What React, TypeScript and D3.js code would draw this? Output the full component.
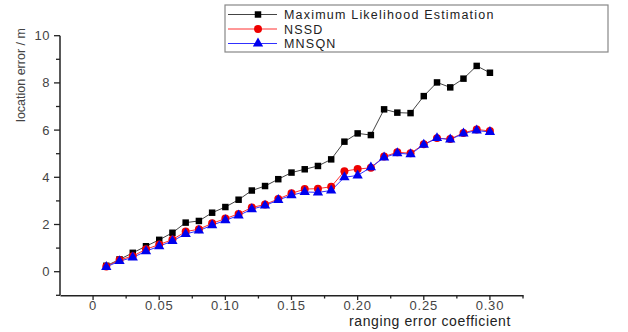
import React, { useRef, useEffect } from 'react';
import * as d3 from 'd3';

// ranging error coefficient 0.01 .. 0.30
const coefficients = [0.01, 0.02, 0.03, 0.04, 0.05, 0.06, 0.07, 0.08, 0.09, 0.10,
  0.11, 0.12, 0.13, 0.14, 0.15, 0.16, 0.17, 0.18, 0.19, 0.20,
  0.21, 0.22, 0.23, 0.24, 0.25, 0.26, 0.27, 0.28, 0.29, 0.30];

const mleValues = [0.25, 0.52, 0.8, 1.08, 1.35, 1.65, 2.08, 2.15, 2.5, 2.74,
  3.05, 3.44, 3.63, 3.92, 4.2, 4.34, 4.48, 4.76, 5.51, 5.86,
  5.79, 6.88, 6.74, 6.72, 7.44, 8.02, 7.81, 8.18, 8.72, 8.43];

const nssdValues = [0.22, 0.5, 0.66, 0.95, 1.15, 1.36, 1.7, 1.8, 2.05, 2.25,
  2.45, 2.72, 2.85, 3.08, 3.32, 3.5, 3.52, 3.6, 4.26, 4.35,
  4.4, 4.88, 5.06, 5.02, 5.4, 5.66, 5.62, 5.88, 6.03, 5.96];

const mnsqnValues = [0.2, 0.45, 0.6, 0.87, 1.08, 1.3, 1.6, 1.74, 1.97, 2.18,
  2.38, 2.65, 2.8, 3.04, 3.24, 3.38, 3.36, 3.44, 4.0, 4.08,
  4.42, 4.84, 5.02, 4.98, 5.38, 5.66, 5.6, 5.86, 5.98, 5.92];

const xTickLabels = ['0', '0.05', '0.10', '0.15', '0.20', '0.25', '0.30'];
const yTicks = [0, 2, 4, 6, 8, 10];

const seriesNames = ['Maximum  Likelihood Estimation', 'NSSD', 'MNSQN'];

const W = 628, H = 332;
const FONT = 'Liberation Sans, Arial, sans-serif';

export default function App() {
  const ref = useRef<SVGSVGElement>(null);

  useEffect(() => {
    const svg = d3.select(ref.current);
    svg.selectAll('*').remove();

    const x = d3.scaleLinear().domain([-0.025, 0.325]).range([60, 523]);
    const y = d3.scaleLinear().domain([-1, 10]).range([295.3, 35.7]);

    const series = [
      { name: seriesNames[0], values: mleValues, line: '#444', fill: '#000', shape: d3.symbolSquare, size: 42 },
      { name: seriesNames[1], values: nssdValues, line: '#ff3030', fill: '#ee0000', shape: d3.symbolCircle, size: 50 },
      { name: seriesNames[2], values: mnsqnValues, line: '#3030ff', fill: '#0000ee', shape: d3.symbolTriangle, size: 46 },
    ];

    // axes
    const xAxis = d3.axisBottom(x)
      .tickValues(d3.range(0, 0.326, 0.025))
      .tickSize(0)
      .tickFormat(() => '');
    const gx = svg.append('g').attr('transform', 'translate(0,295.3)').call(xAxis);
    gx.select('.domain').attr('stroke', '#222').attr('stroke-width', 1.5);

    svg.append('g').selectAll('line')
      .data(d3.range(0, 0.326, 0.025))
      .join('line')
      .attr('x1', d => x(d)).attr('x2', d => x(d))
      .attr('y1', 295.3).attr('y2', (d, i) => i % 2 === 0 ? 300 : 298.5)
      .attr('stroke', '#222').attr('stroke-width', 1.3);

    svg.append('g').selectAll('text')
      .data(xTickLabels)
      .join('text')
      .attr('x', (d, i) => x(i * 0.05))
      .attr('y', 310)
      .attr('text-anchor', 'middle')
      .attr('font-family', FONT)
      .attr('font-size', 13)
      .attr('letter-spacing', 0.8)
      .attr('fill', '#444')
      .text(d => d);

    svg.append('line')
      .attr('x1', 60).attr('x2', 60).attr('y1', y(10)).attr('y2', 295.3)
      .attr('stroke', '#222').attr('stroke-width', 1.5);

    svg.append('g').selectAll('line')
      .data(d3.range(-1, 10.5, 1))
      .join('line')
      .attr('x1', d => d % 2 === 0 ? 54 : 56).attr('x2', 60)
      .attr('y1', d => y(d)).attr('y2', d => y(d))
      .attr('stroke', '#222').attr('stroke-width', 1.3);

    svg.append('g').selectAll('text')
      .data(yTicks)
      .join('text')
      .attr('x', 50)
      .attr('y', d => y(d) + 4.5)
      .attr('text-anchor', 'end')
      .attr('font-family', FONT)
      .attr('font-size', 13)
      .attr('letter-spacing', 0.5)
      .attr('fill', '#444')
      .text(d => d);

    svg.append('text')
      .attr('transform', 'translate(25,75) rotate(-90)')
      .attr('text-anchor', 'middle')
      .attr('font-family', FONT)
      .attr('font-size', 12.5)
      .attr('fill', '#444')
      .text('location error / m');

    svg.append('text')
      .attr('x', 430).attr('y', 326)
      .attr('text-anchor', 'middle')
      .attr('font-family', FONT)
      .attr('font-size', 14)
      .attr('letter-spacing', 0.6)
      .attr('fill', '#222')
      .text('ranging error coefficient');

    // series
    const line = d3.line<number>()
      .x((d, i) => x(coefficients[i]))
      .y(d => y(d));

    series.forEach(s => {
      svg.append('path')
        .attr('d', line(s.values))
        .attr('fill', 'none')
        .attr('stroke', s.line)
        .attr('stroke-width', 1);
    });
    series.forEach(s => {
      svg.append('g').selectAll('path')
        .data(s.values)
        .join('path')
        .attr('transform', (d, i) => `translate(${x(coefficients[i])},${y(d)})`)
        .attr('d', d3.symbol().type(s.shape).size(s.size)())
        .attr('fill', s.fill);
    });

    // legend
    const lg = svg.append('g');
    lg.append('rect')
      .attr('x', 225).attr('y', 5).attr('width', 383).attr('height', 47)
      .attr('fill', 'white').attr('stroke', '#888').attr('stroke-width', 1.2);
    series.forEach((s, i) => {
      const cy = 14.5 + i * 14.5;
      lg.append('line')
        .attr('x1', 228).attr('x2', 277).attr('y1', cy).attr('y2', cy)
        .attr('stroke', s.line).attr('stroke-width', 1);
      lg.append('path')
        .attr('transform', `translate(258,${cy})`)
        .attr('d', d3.symbol().type(s.shape).size(s.size)())
        .attr('fill', s.fill);
      lg.append('text')
        .attr('x', 284).attr('y', cy + 4.5)
        .attr('font-family', FONT)
        .attr('font-size', 12.5)
        .attr('letter-spacing', 1.2)
        .attr('fill', '#222')
        .text(s.name);
    });
  }, []);

  return (
    <svg ref={ref} width={W} height={H}
      style={{ position: 'absolute', left: 0, top: 0, background: 'white' }} />
  );
}
